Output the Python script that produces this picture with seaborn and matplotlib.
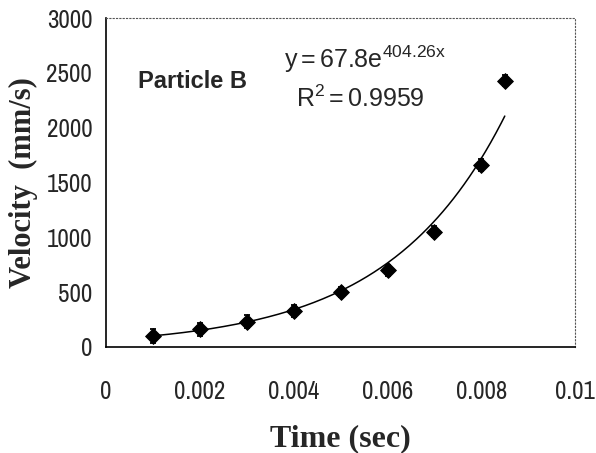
import numpy as np
import pandas as pd
import matplotlib
matplotlib.use("Agg")
import matplotlib.pyplot as plt
from matplotlib import font_manager as fm
import seaborn as sns

# Measured velocity of particle B over time
time_s = [0.001, 0.002, 0.003, 0.004, 0.005, 0.006, 0.007, 0.008, 0.0085]
velocity = [100, 160, 230, 330, 500, 700, 1050, 1660, 2430]
velocity_err = [60, 60, 60, 55, 45, 50, 50, 55, 50]

# Exponential trend line: y = a * exp(b * x)
fit_a = 67.8
fit_b = 404.26
r_squared = 0.9959

x_ticks = [0, 0.002, 0.004, 0.006, 0.008, 0.01]
x_tick_labels = ["0", "0.002", "0.004", "0.006", "0.008", "0.01"]
y_ticks = [0, 500, 1000, 1500, 2000, 2500, 3000]

# Pick a narrow sans face for the tick numbers
available = {f.name for f in fm.fontManager.ttflist}
candidates = ["Liberation Sans Narrow", "Arial Narrow", "Archivo Narrow",
              "PT Sans Narrow", "Roboto Condensed", "Open Sans Condensed",
              "Liberation Sans"]
narrow = next(c for c in candidates if c in available)

sns.set_style("white")
plt.rcParams["font.family"] = [narrow, "DejaVu Sans"]
plt.rcParams["mathtext.fontset"] = "custom"
plt.rcParams["mathtext.rm"] = "Liberation Sans"

df = pd.DataFrame({"time": time_s, "velocity": velocity, "err": velocity_err})
fit_x = np.linspace(time_s[0], time_s[-1], 200)
fit_df = pd.DataFrame({"time": fit_x, "velocity": fit_a * np.exp(fit_b * fit_x)})

fig = plt.figure(figsize=(5.96, 4.53), dpi=100)
ax = fig.add_axes([0.178, 0.234, 0.787, 0.726])

sns.lineplot(data=fit_df, x="time", y="velocity", ax=ax, color="black", lw=1.1)
ax.errorbar(df["time"], df["velocity"], yerr=df["err"], fmt="none",
            ecolor="black", elinewidth=1.3, capsize=2.5, capthick=1.3)
sns.scatterplot(data=df, x="time", y="velocity", ax=ax, marker="D", s=65,
                color="black", edgecolor="black", zorder=3)

ax.set_xlim(0, 0.01)
ax.set_ylim(0, 3000)
ax.set_xticks(x_ticks)
ax.set_xticklabels(x_tick_labels)
ax.set_yticks(y_ticks)
ax.tick_params(axis="both", direction="out", length=5, width=1, color="black",
               labelsize=18)
ax.tick_params(axis="x", pad=19)
ax.tick_params(axis="y", pad=5)

for side in ("left", "bottom"):
    ax.spines[side].set_color("black")
    ax.spines[side].set_linewidth(1.2)
for side in ("top", "right"):
    ax.spines[side].set_color("#555555")
    ax.spines[side].set_linewidth(0.8)
    ax.spines[side].set_linestyle((0, (1, 2)))

ax.set_xlabel("Time (sec)", family=["Liberation Serif"], fontweight="bold",
              fontsize=23, labelpad=15)
ax.set_ylabel("Velocity  (mm/s)", family=["Liberation Serif"], fontweight="bold",
              fontsize=22, labelpad=6)

ax.text(0.00068, 2361, "Particle B", fontsize=17, fontweight="bold",
        family=["Liberation Sans"], va="baseline", ha="left")
ax.text(0.00380, 2543,
        r"y$\,$=$\,$%.1fe$^{\mathregular{%.2fx}}$" % (fit_a, fit_b),
        fontsize=18, family=["Liberation Sans"], va="baseline", ha="left")
ax.text(0.00405, 2188, r"R$^{\mathregular{2}}\,$=$\,$%.4f" % r_squared,
        fontsize=18, family=["Liberation Sans"], va="baseline", ha="left")

fig.savefig("out.png", dpi=100)
